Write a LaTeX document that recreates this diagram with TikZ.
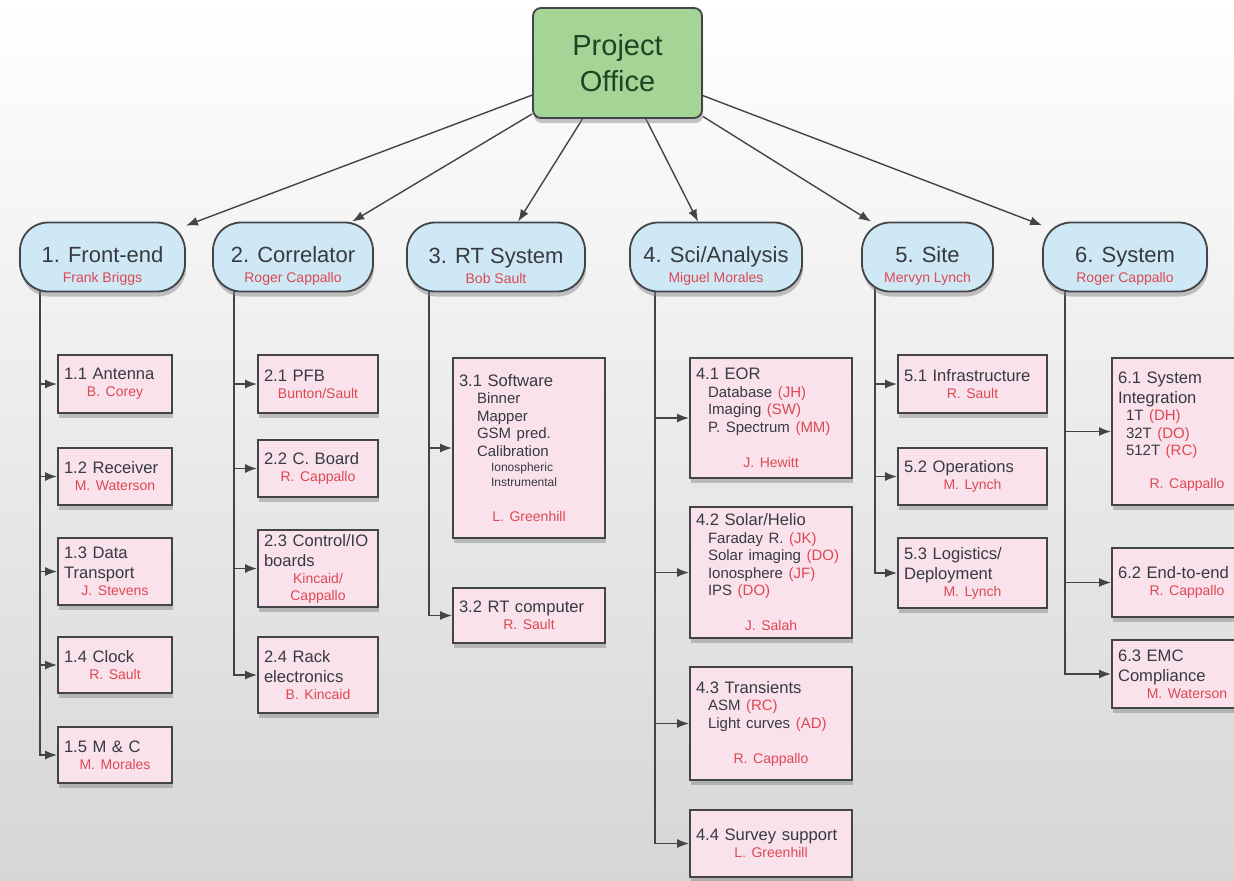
\documentclass[tikz,border=0pt]{standalone}
\usepackage{fontspec}
\setmainfont{Liberation Sans}
\usepackage{xcolor}
\usetikzlibrary{arrows.meta, positioning, shadows, backgrounds}
\definecolor{officegreen}{RGB}{164,212,150}
\definecolor{officetext}{RGB}{30,70,35}
\definecolor{phaseblue}{RGB}{206,232,246}
\definecolor{taskpink}{RGB}{249,226,236}
\definecolor{namered}{RGB}{222,72,82}
\definecolor{inkgray}{RGB}{55,58,62}
\definecolor{edgegray}{RGB}{66,68,72}
\definecolor{floorgray}{RGB}{214,214,214}
\setlength{\parindent}{0pt}
\newcommand{\phaselead}[1]{{\fontsize{7}{8}\selectfont\color{namered}#1}}
\newcommand{\taskwho}[2][0pt]{\par\vspace{#1}{\centering\fontsize{7}{8.5}\selectfont\color{namered}#2\par}}
\newcommand{\taskitem}[2][6pt]{\par\hspace*{#1}\fontsize{7.5}{8.75}\selectfont#2}
\newcommand{\tasksub}[1]{\par\hspace*{16pt}\fontsize{6}{7.5}\selectfont#1}
\newcommand{\initials}[1]{{\color{namered}(#1)}}

\begin{document}
\begin{tikzpicture}[x=0.5pt, y=-0.5pt,
  office/.style={draw=edgegray, line width=0.9pt, fill=officegreen, rounded corners=4pt,
    minimum width=84.5pt, minimum height=55pt, align=center, text=officetext,
    font=\fontsize{14.5}{18}\selectfont,
    drop shadow={shadow xshift=0.5pt, shadow yshift=-2.5pt, opacity=0.45}},
  phase/.style={draw=edgegray, line width=0.9pt, fill=phaseblue, rounded corners=14pt,
    minimum width=#1, minimum height=34.5pt, inner ysep=0pt, align=center, text=inkgray,
    font=\fontsize{11}{13}\selectfont,
    drop shadow={shadow xshift=0.5pt, shadow yshift=-2.5pt, opacity=0.45}},
  task/.style={draw=edgegray, line width=1pt, fill=taskpink, text width=#1,
    inner xsep=3pt, inner ysep=2pt, align=left, text=inkgray,
    font=\fontsize{8.3}{10}\selectfont,
    drop shadow={shadow xshift=0.5pt, shadow yshift=-2.5pt, opacity=0.45}},
  link/.style={draw=edgegray, line width=0.7pt, -{Latex[length=6pt,width=4.5pt]}}]
  \useasboundingbox (0,0) rectangle (1234,880);

  % Project office
  \node[office] (po) at (617.5,63) {Project\\Office};

  % Work packages
  \node[phase=82.5pt] (fe) at (102.5,257) {\rule{0pt}{17pt}1. Front-end\\[-3pt]\phaselead{Frank Briggs}};
  \node[phase=80pt]   (co) at (293,257)   {\rule{0pt}{17pt}2. Correlator\\[-3pt]\phaselead{Roger Cappallo}};
  \node[phase=89pt]   (rt) at (496,257)   {\rule{0pt}{17pt}3. RT System\\[-3pt]\phaselead{Bob Sault}};
  \node[phase=86pt]   (sa) at (716,257)   {\rule{0pt}{17pt}4. Sci/Analysis\\[-3pt]\phaselead{Miguel Morales}};
  \node[phase=65.5pt] (si) at (927.5,257) {\rule{0pt}{17pt}5. Site\\[-3pt]\phaselead{Mervyn Lynch}};
  \node[phase=82pt]   (sy) at (1125,257)  {\rule{0pt}{17pt}6. System\\[-3pt]\phaselead{Roger Cappallo}};

  % Front-end tasks
  \node[task=51pt, minimum height=29pt]   (t11) at (115,384)   {1.1 Antenna\taskwho{B. Corey}};
  \node[task=51pt, minimum height=28.5pt] (t12) at (115,476.5) {1.2 Receiver\taskwho{M. Waterson}};
  \node[task=51pt, minimum height=33.5pt] (t13) at (115,571.5) {1.3 Data\\Transport\taskwho{J. Stevens}};
  \node[task=51pt, minimum height=28pt]   (t14) at (115,665)   {1.4 Clock\taskwho{R. Sault}};
  \node[task=51pt, minimum height=28pt]   (t15) at (115,755)   {1.5 M \& C\taskwho{M. Morales}};

  % Correlator tasks
  \node[task=54pt, minimum height=29pt]   (t21) at (318,384)   {2.1 PFB\taskwho{Bunton/Sault}};
  \node[task=54pt, minimum height=28.5pt] (t22) at (318,468.5) {2.2 C. Board\taskwho{R. Cappallo}};
  \node[task=54pt, minimum height=38.5pt] (t23) at (318,568.5) {2.3 Control/IO\\boards\taskwho{Kincaid/\\Cappallo}};
  \node[task=54pt, minimum height=38pt]   (t24) at (318,675)   {2.4 Rack\\electronics\taskwho{B. Kincaid}};

  % RT system tasks
  \node[task=70pt, minimum height=90pt]   (t31) at (529,448)
    {3.1 Software\taskitem[9pt]{Binner}\taskitem[9pt]{Mapper}\taskitem[9pt]{GSM pred.}%
     \taskitem[9pt]{Calibration}\tasksub{Ionospheric}\tasksub{Instrumental}\taskwho[9pt]{L. Greenhill}};
  \node[task=70pt, minimum height=27.5pt] (t32) at (529,615.5) {3.2 RT computer\taskwho{R. Sault}};

  % Science tasks
  \node[task=75pt, minimum height=60pt]   (t41) at (771,418)
    {4.1 EOR\taskitem{Database \initials{JH}}\taskitem{Imaging \initials{SW}}%
     \taskitem{P. Spectrum \initials{MM}}\taskwho[9pt]{J. Hewitt}};
  \node[task=75pt, minimum height=65.5pt] (t42) at (771,572.5)
    {4.2 Solar/Helio\taskitem{Faraday R. \initials{JK}}\taskitem{Solar imaging \initials{DO}}%
     \taskitem{Ionosphere \initials{JF}}\taskitem{IPS \initials{DO}}\taskwho[9pt]{J. Salah}};
  \node[task=75pt, minimum height=56.5pt] (t43) at (771,723.5)
    {4.3 Transients\taskitem{ASM \initials{RC}}\taskitem{Light curves \initials{AD}}\taskwho[9pt]{R. Cappallo}};
  \node[task=75pt, minimum height=33.5pt] (t44) at (771,843.5) {4.4 Survey support\taskwho{L. Greenhill}};

  % Site tasks
  \node[task=68.5pt, minimum height=29pt]   (t51) at (972.5,384)   {5.1 Infrastructure\taskwho{R. Sault}};
  \node[task=68.5pt, minimum height=28.5pt] (t52) at (972.5,476.5) {5.2 Operations\taskwho{M. Lynch}};
  \node[task=68.5pt, minimum height=35pt]   (t53) at (972.5,573)   {5.3 Logistics/\\Deployment\taskwho{M. Lynch}};

  % System tasks
  \node[task=69pt, minimum height=73.5pt] (t61) at (1187,431.5)
    {6.1 System\\Integration\taskitem[4pt]{1T \initials{DH}}\taskitem[4pt]{32T \initials{DO}}%
     \taskitem[4pt]{512T \initials{RC}}\taskwho[8pt]{R. Cappallo}};
  \node[task=69pt, minimum height=34.5pt] (t62) at (1187,582.5) {6.2 End-to-end\taskwho{R. Cappallo}};
  \node[task=69pt, minimum height=34pt]   (t63) at (1187,674)   {6.3 EMC\\Compliance\taskwho{M. Waterson}};

  % Trunk starts (hidden behind the work package boxes)
  \coordinate (fe-t) at (40,257);
  \coordinate (co-t) at (234,257);
  \coordinate (rt-t) at (429,257);
  \coordinate (sa-t) at (655,257);
  \coordinate (si-t) at (875,257);
  \coordinate (sy-t) at (1065,257);

  \begin{scope}[on background layer]
    \shade[top color=white, middle color=white!95!floorgray, bottom color=floorgray] (0,0) rectangle (1234,880);
    % Office to work packages
    \draw[link] (po) -- (fe);
    \draw[link] (po) -- (co);
    \draw[link] (po) -- (rt);
    \draw[link] (po) -- (sa);
    \draw[link] (po) -- (si);
    \draw[link] (po) -- (sy);
    % Work packages to tasks
    \draw[link] (fe-t) |- (t11.west);
    \draw[link] (fe-t) |- (t12.west);
    \draw[link] (fe-t) |- (t13.west);
    \draw[link] (fe-t) |- (t14.west);
    \draw[link] (fe-t) |- (t15.west);
    \draw[link] (co-t) |- (t21.west);
    \draw[link] (co-t) |- (t22.west);
    \draw[link] (co-t) |- (t23.west);
    \draw[link] (co-t) |- (t24.west);
    \draw[link] (rt-t) |- (t31.west);
    \draw[link] (rt-t) |- (t32.west);
    \draw[link] (sa-t) |- (t41.west);
    \draw[link] (sa-t) |- (t42.west);
    \draw[link] (sa-t) |- (t43.west);
    \draw[link] (sa-t) |- (t44.west);
    \draw[link] (si-t) |- (t51.west);
    \draw[link] (si-t) |- (t52.west);
    \draw[link] (si-t) |- (t53.west);
    \draw[link] (sy-t) |- (t61.west);
    \draw[link] (sy-t) |- (t62.west);
    \draw[link] (sy-t) |- (t63.west);
  \end{scope}
\end{tikzpicture}
\end{document}
